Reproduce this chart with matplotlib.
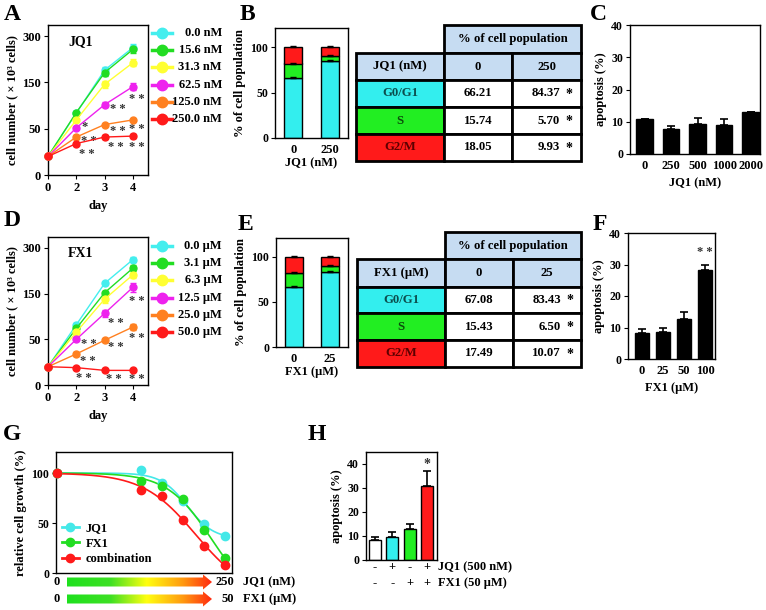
import numpy as np
import matplotlib
matplotlib.use("Agg")
import matplotlib.pyplot as plt
from matplotlib.patches import Rectangle, Polygon
from matplotlib.lines import Line2D
from matplotlib.colors import LinearSegmentedColormap

plt.rcParams['font.family'] = ['Liberation Serif', 'DejaVu Serif']
plt.rcParams['font.weight'] = 'bold'
plt.rcParams['axes.labelweight'] = 'bold'
plt.rcParams['font.size'] = 8.5
plt.rcParams['axes.linewidth'] = 1.0
plt.rcParams['xtick.major.size'] = 3
plt.rcParams['ytick.major.size'] = 3
plt.rcParams['xtick.major.pad'] = 2
plt.rcParams['ytick.major.pad'] = 2

W, H = 766, 610

# ---- data ----
days = [0, 2, 3, 4]
dose_colors = ['#44eeee', '#22dd22', '#ffff33', '#ee22ee', '#ff8020', '#ff1a1a']

jq1_doses = ['0.0', '15.6', '31.3', '62.5', '125.0', '250.0']
jq1_growth = [[20, 84, 190, 263],
              [20, 85, 182, 257],
              [20, 69, 146, 214],
              [20, 52, 102, 141],
              [20, 41, 59, 69],
              [20, 34, 41, 42]]
jq1_err = [[1, 4, 10, 10],
           [1, 4, 10, 12],
           [1, 3, 8, 12],
           [1, 2, 6, 8],
           [1, 2, 2, 2],
           [1, 2, 2, 2]]
# (series, day index, text, dx px, dy px)
jq1_stars = [(3, 1, '*', 8, 1), (4, 1, '* *', 12, -4), (5, 1, '* *', 10, -10),
             (3, 2, '* *', 13, -4), (4, 2, '* *', 13, -6), (5, 2, '* *', 11, -10),
             (3, 3, '* *', 4, -12), (4, 3, '* *', 4, -9), (5, 3, '* *', 4, -11)]

fx1_doses = ['0.0', '3.1', '6.3', '12.5', '25.0', '50.0']
fx1_growth = [[20, 82, 184, 262],
              [20, 74, 153, 234],
              [20, 66, 138, 212],
              [20, 50, 107, 171],
              [20, 34, 49, 77],
              [20, 19, 16, 16]]
fx1_err = [[1, 3, 5, 8],
           [1, 3, 6, 10],
           [1, 3, 8, 10],
           [1, 2, 8, 15],
           [1, 2, 2, 6],
           [1, 1, 1, 1]]
fx1_stars = [(3, 1, '* *', 12, -5), (4, 1, '* *', 11, -7), (5, 1, '* *', 7, -10),
             (3, 2, '* *', 11, -10), (4, 2, '* *', 11, -7), (5, 2, '* *', 9, -9),
             (3, 3, '* *', 4, -14), (4, 3, '* *', 4, -11), (5, 3, '* *', 4, -9)]

phases = ['G0/G1', 'S', 'G2/M']
phase_colors = ['#33eeee', '#22ee22', '#ff1a1a']
phase_text_colors = ['#0b4d4d', '#0b4d0b', '#5c0000']
jq1_cycle_doses = ['0', '250']
jq1_cycle = [[66.21, 84.37], [15.74, 5.70], [18.05, 9.93]]
fx1_cycle_doses = ['0', '25']
fx1_cycle = [[67.08, 83.43], [15.43, 6.50], [17.49, 10.07]]

jq1_apop_doses = ['0', '250', '500', '1000', '2000']
jq1_apop = [10.7, 7.7, 9.3, 8.9, 12.9]
jq1_apop_err = [0.2, 1.1, 2.0, 1.8, 0.2]

fx1_apop_doses = ['0', '25', '50', '100']
fx1_apop = [8.2, 8.5, 12.8, 28.4]
fx1_apop_err = [1.3, 1.3, 2.2, 1.5]

g_conc_jq1 = [0, 15.6, 31.3, 62.5, 125, 250]
g_names = ['JQ1', 'FX1', 'combination']
g_colors = ['#44e8e8', '#22dd22', '#ff1a1a']
g_growth = [[100, 103, 90, 72, 49, 37],
            [100, 92, 87, 74, 43, 15],
            [100, 83, 77, 53, 27, 8]]

h_colors = ['white', '#33eeee', '#22ee22', '#ff1a1a']
h_jq1 = ['-', '+', '-', '+']
h_fx1 = ['-', '-', '+', '+']
h_apop = [8.2, 9.5, 12.8, 30.5]
h_err = [1.5, 2.0, 2.2, 6.3]


def px(l, t, r, b):
    return [l / W, 1 - b / H, (r - l) / W, (b - t) / H]


fig = plt.figure(figsize=(W / 100, H / 100), dpi=100)

# segmented y axis: 0-50, 50-150, 150-300 equally spaced
seg_v = [0, 50, 150, 300, 450]
seg_p = [0, 1, 2, 3, 4]


def fwd(v):
    return np.interp(v, seg_v, seg_p)


def inv(p):
    return np.interp(p, seg_p, seg_v)


def growth_panel(rect, leg_top, data, err, stars, doses, unit, title):
    ax = fig.add_axes(px(*rect))
    x = np.arange(len(days))
    for i, vals in enumerate(data):
        ax.errorbar(x, vals, yerr=err[i], color=dose_colors[i], marker='o', ms=5,
                    lw=1, capsize=2, elinewidth=1, clip_on=False, zorder=3)
    ax.set_yscale('function', functions=(fwd, inv))
    ax.set_ylim(0, 336)
    ax.set_xlim(0, 3.53)
    ax.set_yticks([0, 50, 150, 300])
    ax.set_yticklabels(['0', '50', '150', '300'], fontsize=9)
    ax.set_xticks(x)
    ax.set_xticklabels([str(d) for d in days], fontsize=9)
    ax.yaxis.set_minor_locator(plt.NullLocator())
    ax.set_xlabel('day', fontsize=9, labelpad=4)
    ax.set_ylabel('cell number ( \u00d7 10\u00b3 cells)', fontsize=9, labelpad=3)
    ax.text(0.2, 0.93, title, transform=ax.transAxes, fontsize=10, va='top')
    for s, d, txt, dx, dy in stars:
        ax.annotate(txt, (x[d], data[s][d]), xytext=(dx, dy),
                    textcoords='offset pixels', ha='center', va='center',
                    fontsize=9, color='#333333')
    # legend
    lx = fig.add_axes(px(150, leg_top - 10, 224, leg_top + 95))
    lx.set_xlim(150, 224)
    lx.set_ylim(leg_top + 95, leg_top - 10)
    lx.axis('off')
    for i, d in enumerate(doses):
        y = leg_top + i * 17.2
        lx.plot([152, 172], [y, y], color=dose_colors[i], lw=2.5)
        lx.plot([162], [y], 'o', color=dose_colors[i], ms=7.5)
        lx.text(222, y, d + ' ' + unit, ha='right', va='center', fontsize=9)
    return ax


def cycle_panel(rect, cycle, doses, xlabel):
    ax = fig.add_axes(px(*rect))
    x = np.arange(len(doses))
    bottom = np.zeros(len(doses))
    for i, vals in enumerate(cycle):
        ax.bar(x, vals, 0.5, bottom=bottom, color=phase_colors[i],
               edgecolor='black', lw=1, zorder=2)
        ax.errorbar(x, bottom + np.array(vals), yerr=[np.zeros(len(x)), np.ones(len(x))],
                    fmt='none', ecolor='black', capsize=2, elinewidth=1, zorder=3)
        bottom = bottom + np.array(vals)
    ax.set_xlim(-0.5, 1.5)
    ax.set_ylim(0, 121)
    ax.set_yticks([0, 50, 100])
    ax.set_xticks(x)
    ax.set_xticklabels(doses, fontsize=9)
    ax.set_xlabel(xlabel, fontsize=9, labelpad=1)
    ax.set_ylabel('% of cell population', fontsize=9, labelpad=3)
    ax.tick_params(axis='x', length=0, pad=4)
    return ax


def cycle_table(cols, rows, drug, doses, cycle):
    tx = fig.add_axes(px(cols[0] - 3, rows[0] - 3, cols[-1] + 3, rows[-1] + 3))
    tx.set_xlim(cols[0] - 3, cols[-1] + 3)
    tx.set_ylim(rows[-1] + 3, rows[0] - 3)
    tx.axis('off')
    blue = '#c6dcf2'

    def cell(c0, c1, r0, r1, fc, txt, tc='black'):
        tx.add_patch(Rectangle((cols[c0], rows[r0]), cols[c1] - cols[c0], rows[r1] - rows[r0],
                               facecolor=fc, edgecolor='black', lw=2, clip_on=False))
        tx.text((cols[c0] + cols[c1]) / 2, (rows[r0] + rows[r1]) / 2, txt,
                ha='center', va='center', fontsize=9.2, color=tc)

    cell(1, 3, 0, 1, blue, '% of cell population')
    cell(0, 1, 1, 2, blue, drug)
    cell(1, 2, 1, 2, blue, doses[0])
    cell(2, 3, 1, 2, blue, doses[1])
    for i, ph in enumerate(phases):
        cell(0, 1, i + 2, i + 3, phase_colors[i], ph, phase_text_colors[i])
        cell(1, 2, i + 2, i + 3, 'white', '%.2f' % cycle[i][0])
        cell(2, 3, i + 2, i + 3, 'white', '')
        ym = (rows[i + 2] + rows[i + 3]) / 2
        tx.text(cols[2] + 48, ym, '%.2f' % cycle[i][1], ha='right', va='center', fontsize=9.2)
        tx.text(cols[2] + 57, ym + 1, '*', ha='center', va='center', fontsize=10)


def apop_panel(rect, vals, errs, doses, xlabel, xlim, width, ylim=40, colors=None):
    ax = fig.add_axes(px(*rect))
    x = np.arange(len(vals))
    ax.bar(x, vals, width, color=colors if colors else 'black', edgecolor='black',
           lw=1, zorder=2)
    ax.errorbar(x, vals, yerr=[np.zeros(len(x)), errs], fmt='none', ecolor='black',
                capsize=3, elinewidth=1.2, capthick=1.2, zorder=1)
    ax.set_xlim(*xlim)
    ax.set_ylim(0, ylim)
    ax.set_yticks([0, 10, 20, 30, 40])
    ax.set_xticks(x)
    if doses:
        ax.set_xticklabels(doses, fontsize=9)
    else:
        ax.set_xticklabels([])
    ax.tick_params(axis='x', length=0, pad=4)
    if xlabel:
        ax.set_xlabel(xlabel, fontsize=9, labelpad=4)
    ax.set_ylabel('apoptosis (%)', fontsize=9, labelpad=3)
    return ax


# A
growth_panel((48, 25, 148, 175), 33, jq1_growth, jq1_err, jq1_stars, jq1_doses, 'nM', 'JQ1')
# D
growth_panel((48, 237, 148, 385), 246, fx1_growth, fx1_err, fx1_stars, fx1_doses, '\u03bcM', 'FX1')

# B / E
cycle_panel((275, 28, 348, 138), jq1_cycle, jq1_cycle_doses, 'JQ1 (nM)')
cycle_table([356, 444, 512, 581], [25, 53, 80, 107, 134, 161], 'JQ1 (nM)', jq1_cycle_doses, jq1_cycle)
cycle_panel((276, 238, 348, 347), fx1_cycle, fx1_cycle_doses, 'FX1 (\u03bcM)')
cycle_table([357, 445, 513, 581], [232, 259, 287, 313, 340, 367], 'FX1 (\u03bcM)', fx1_cycle_doses, fx1_cycle)

# C
apop_panel((630, 25, 760, 154), jq1_apop, jq1_apop_err, jq1_apop_doses, 'JQ1 (nM)',
           (-0.55, 4.35), 0.62)
# F
axf = apop_panel((628, 233, 715, 359), fx1_apop, fx1_apop_err, fx1_apop_doses, 'FX1 (\u03bcM)',
                 (-0.67, 3.48), 0.7)
axf.text(3, fx1_apop[3] + fx1_apop_err[3] + 4, '* *', ha='center', va='center',
         fontsize=9, color='#333333')

# G
axg = fig.add_axes(px(56, 452, 232, 573))
conc = np.array(g_conc_jq1, dtype=float)
gx = np.where(conc > 0, np.log2(np.where(conc > 0, conc, 1) / conc[1]) + 4, 0)
xs = np.linspace(0, gx[-1], 200)
for i, vals in enumerate(g_growth):
    y = np.array(vals, dtype=float)
    best = None
    for x50 in np.linspace(4, 10, 121):
        for k in np.linspace(0.3, 3, 55):
            s = 1 / (1 + np.exp(k * (gx - x50)))
            bot = np.sum((y - 100 * s) * (1 - s)) / np.sum((1 - s) ** 2)
            r = np.sum((bot + (100 - bot) * s - y) ** 2)
            if best is None or r < best[0]:
                best = (r, x50, k, bot)
    _, x50, k, bot = best
    fit = bot + (100 - bot) / (1 + np.exp(k * (xs - x50)))
    axg.plot(xs, fit, color=g_colors[i], lw=1.2, zorder=2)
    axg.plot(gx, y, 'o', color=g_colors[i], ms=6, zorder=3, clip_on=False)
axg.set_xlim(-0.03, 8.33)
axg.set_ylim(0, 121)
axg.set_yticks([0, 50, 100])
axg.set_xticks([])
axg.set_ylabel('relative cell growth (%)', fontsize=9, labelpad=3)
handles = [Line2D([0], [0], color=c, marker='o', ms=6, lw=2) for c in g_colors]
axg.legend(handles, g_names, loc='lower left', bbox_to_anchor=(-0.01, 0.0), frameon=False,
           fontsize=9, handlelength=1.4, handletextpad=0.5, labelspacing=0.3,
           borderaxespad=0.2)

# gradient arrows under G
ga = fig.add_axes(px(40, 572, 310, 608))
ga.set_xlim(40, 310)
ga.set_ylim(608, 572)
ga.axis('off')
cmap = LinearSegmentedColormap.from_list('grad', [(0, '#1ee01e'), (0.3, '#3ee024'),
                                                 (0.55, '#ffff10'), (0.8, '#ff9a10'),
                                                 (1, '#ff2a10')])
grad = np.linspace(0, 1, 256)[None, :]
for yc, lo, hi, lab in [(582, '0', '250', 'JQ1 (nM)'), (599, '0', '50', 'FX1 (\u03bcM)')]:
    poly = Polygon([(67, yc - 4.5), (203, yc - 4.5), (203, yc - 7.5), (212, yc),
                    (203, yc + 7.5), (203, yc + 4.5), (67, yc + 4.5)], closed=True,
                   facecolor='none', edgecolor='none')
    ga.add_patch(poly)
    im = ga.imshow(grad, cmap=cmap, aspect='auto', extent=(67, 212, yc + 8, yc - 8))
    im.set_clip_path(poly)
    ga.text(57, yc, lo, ha='center', va='center', fontsize=9)
    ga.text(234, yc, hi, ha='right', va='center', fontsize=9)
    ga.text(243, yc, lab, ha='left', va='center', fontsize=9)

# H
axh = apop_panel((366, 452, 437, 560), h_apop, h_err, None, None, (-0.52, 3.58), 0.7,
                 ylim=44.8, colors=h_colors)
axh.text(3, h_apop[3] + h_err[3] + 3, '*', ha='center', va='center', fontsize=10,
         color='#333333')
for row, signs, lab in [(567, h_jq1, 'JQ1 (500 nM)'), (583, h_fx1, 'FX1 (50 \u03bcM)')]:
    yy = 1 - (row - 452) / (560 - 452)
    for j, s in enumerate(signs):
        axh.text(j, yy, s, transform=axh.get_xaxis_transform(), ha='center', va='center',
                 fontsize=9)
    axh.text(438, H - row, lab, transform=None, ha='left', va='center', fontsize=9)

# panel letters
for lab, (lx_, ly_) in {'A': (12, 14), 'B': (247, 14), 'C': (598, 14), 'D': (12, 221),
                        'E': (245, 224), 'F': (600, 224), 'G': (12, 434),
                        'H': (317, 434)}.items():
    fig.text(lx_ / W, 1 - ly_ / H, lab, ha='center', va='center', fontsize=17)

fig.savefig('out.png', dpi=100)
